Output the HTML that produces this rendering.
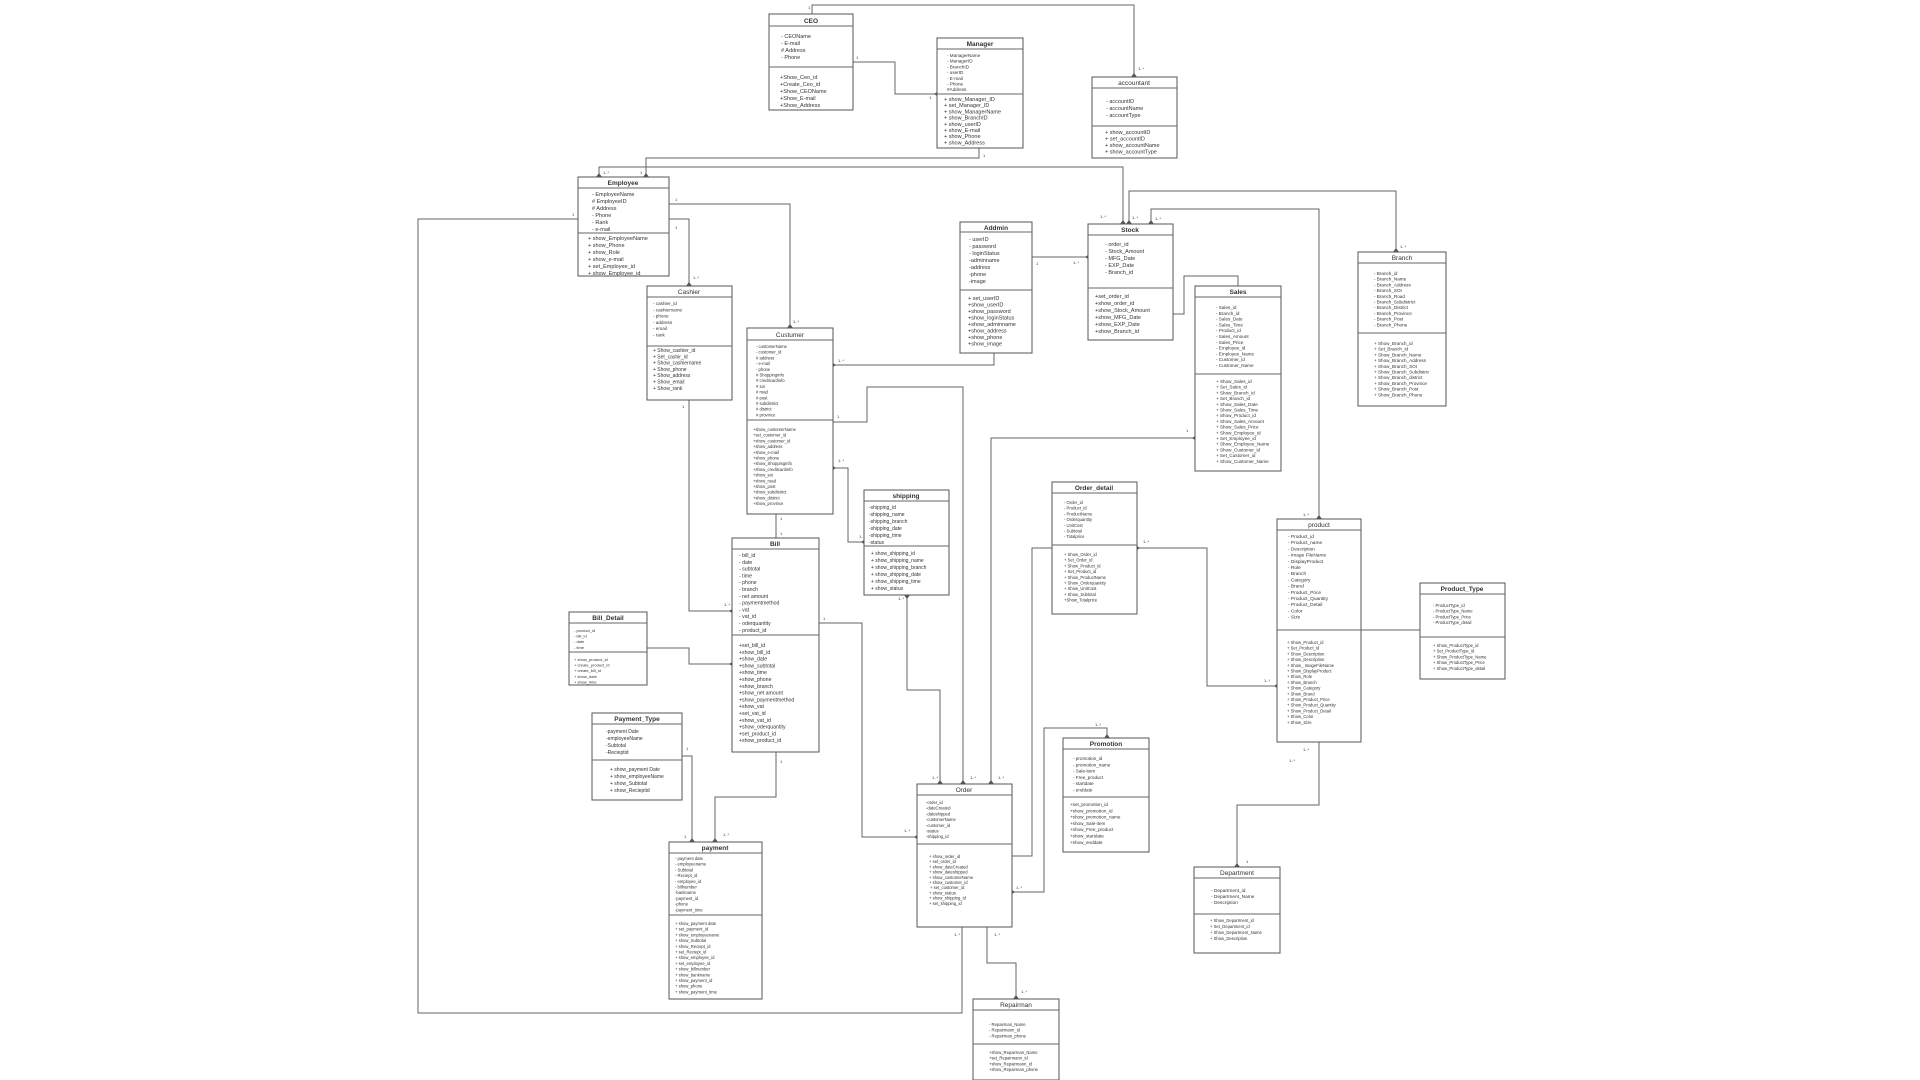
<!DOCTYPE html>
<html><head><meta charset="utf-8"><style>
html,body{margin:0;padding:0;background:#fff;}
svg{display:block;}
text{font-family:"Liberation Sans",sans-serif;fill:#333;}
.h{font-weight:bold;font-size:6.5px;text-anchor:middle;}
.a{font-size:5.5px;}
.s{font-size:4.6px;}
.l{font-size:4px;fill:#555;}
rect{fill:#fff;stroke:#555;stroke-width:1;}
.ln{fill:none;stroke:#666;stroke-width:1;}
</style></head><body>
<svg width="1920" height="1080" viewBox="0 0 1920 1080" xmlns="http://www.w3.org/2000/svg">
<!-- connectors -->
<g class="ln">
<polyline points="812,14 812,5 1134,5 1134,77"/>
<polyline points="853,62 895,62 895,94 937,94"/>
<polyline points="979,148 979,158 646,158 646,177"/>
<polyline points="599,177 599,167 1123,167 1123,224"/>
<polyline points="1129,224 1129,191 1396,191 1396,252"/>
<polyline points="1151,224 1151,209 1319,209 1319,519"/>
<polyline points="1032,257 1088,257"/>
<polyline points="1238,286 1238,276 1184,276 1184,314 1173,314"/>
<polyline points="833,422 867,422 867,387 963,387 963,784"/>
<polyline points="1195,438 991,438 991,784"/>
<polyline points="994,353 994,365 833,365"/>
<polyline points="833,468 848,468 848,542 864,542"/>
<polyline points="907,595 907,690 940,690 940,784"/>
<polyline points="776,514 776,538"/>
<polyline points="689,400 689,611 732,611"/>
<polyline points="578,219 418,219 418,1013 962,1013 962,927"/>
<polyline points="669,204 790,204 790,328"/>
<polyline points="669,219 689,219 689,286"/>
<polyline points="647,648 689,648 689,664 732,664"/>
<polyline points="819,623 862,623 862,837 917,837"/>
<polyline points="776,752 776,797 715,797 715,842"/>
<polyline points="682,756 692,756 692,842"/>
<polyline points="1137,548 1207,548 1207,686 1277,686"/>
<polyline points="1012,856 1032,856 1032,548 1052,548"/>
<polyline points="1012,892 1044,892 1044,728 1107,728 1107,738"/>
<polyline points="1361,630 1420,630"/>
<polyline points="1319,742 1319,805 1237,805 1237,867"/>
<polyline points="987,927 987,963 1016,963 1016,999"/>
</g>
<!-- multiplicity labels -->
<g class="l">
<text x="808" y="9">1</text><text x="1138" y="70">1..*</text>
<text x="856" y="59">1</text><text x="929" y="99">1</text>
<text x="983" y="157">1</text><text x="640" y="174">1</text>
<text x="603" y="174">1..*</text><text x="1100" y="218">1..*</text>
<text x="1132" y="219">1..*</text><text x="1155" y="220">1..*</text>
<text x="1400" y="248">1..*</text><text x="1036" y="265">1</text>
<text x="1073" y="264">1..*</text><text x="1186" y="432">1</text>
<text x="837" y="418">1</text><text x="838" y="362">1..*</text>
<text x="838" y="462">1..*</text><text x="859" y="538">1..*</text>
<text x="898" y="600">1..*</text><text x="780" y="520">1</text>
<text x="780" y="535">1</text><text x="682" y="408">1</text>
<text x="724" y="606">1..*</text><text x="572" y="216">1</text>
<text x="675" y="201">1</text><text x="675" y="229">1</text>
<text x="693" y="279">1..*</text><text x="793" y="323">1..*</text>
<text x="823" y="620">1</text><text x="904" y="832">1..*</text>
<text x="780" y="763">1</text><text x="686" y="750">1</text>
<text x="723" y="836">1..*</text><text x="684" y="838">1</text>
<text x="1143" y="543">1..*</text><text x="1264" y="682">1..*</text>
<text x="1016" y="889">1..*</text><text x="1095" y="726">1..*</text>
<text x="1303" y="516">1..*</text><text x="1303" y="751">1..*</text>
<text x="1246" y="863">1</text><text x="1289" y="762">1..*</text>
<text x="994" y="936">1..*</text><text x="954" y="936">1..*</text>
<text x="1021" y="993">1..*</text><text x="932" y="779">1..*</text>
<text x="970" y="779">1..*</text><text x="998" y="779">1..*</text>
</g>

<!-- CEO -->
<rect x="769" y="14" width="84" height="96"/><line class="ln" x1="769" y1="26" x2="853" y2="26"/><line class="ln" x1="769" y1="67" x2="853" y2="67"/>
<text class="h" x="811" y="23">CEO</text>
<g class="a"><text x="781" y="38">- CEOName</text><text x="781" y="45">- E-mail</text><text x="781" y="52"># Address</text><text x="781" y="59">- Phone</text>
<text x="780" y="79">+Show_Ceo_id</text><text x="780" y="86">+Create_Ceo_id</text><text x="780" y="93">+Show_CEOName</text><text x="780" y="100">+Show_E-mail</text><text x="780" y="107">+Show_Address</text></g>

<!-- Manager -->
<rect x="937" y="38" width="86" height="110"/><line class="ln" x1="937" y1="49" x2="1023" y2="49"/><line class="ln" x1="937" y1="94" x2="1023" y2="94"/>
<text class="h" x="980" y="46">Manager</text>
<g class="s"><text x="947" y="57">- ManagerName</text><text x="947" y="62.7">- ManagerID</text><text x="947" y="68.4">- BranchID</text><text x="947" y="74.1">- userID</text><text x="947" y="79.8">- E-mail</text><text x="947" y="85.5">- Phone</text><text x="947" y="91.2">#Address</text></g>
<g class="a"><text x="944" y="101">+ show_Manager_ID</text><text x="944" y="107.2">+ set_Manager_ID</text><text x="944" y="113.4">+ show_ManagerName</text><text x="944" y="119.6">+ show_BranchID</text><text x="944" y="125.8">+ show_userID</text><text x="944" y="132">+ show_E-mail</text><text x="944" y="138.2">+ show_Phone</text><text x="944" y="144.4">+ show_Address</text></g>

<!-- accountant -->
<rect x="1092" y="77" width="85" height="81"/><line class="ln" x1="1092" y1="88" x2="1177" y2="88"/><line class="ln" x1="1092" y1="126" x2="1177" y2="126"/>
<text class="h" x="1134" y="85" style="font-weight:normal">accountant</text>
<g class="a"><text x="1106" y="103">- accountID</text><text x="1106" y="110">- accountName</text><text x="1106" y="117">- accountType</text>
<text x="1105" y="134">+ show_accountID</text><text x="1105" y="140.5">+ set_accountID</text><text x="1105" y="147">+ show_accountName</text><text x="1105" y="153.5">+ show_accountType</text></g>

<!-- Employee -->
<rect x="578" y="177" width="91" height="99"/><line class="ln" x1="578" y1="188" x2="669" y2="188"/><line class="ln" x1="578" y1="233" x2="669" y2="233"/>
<text class="h" x="623" y="185">Employee</text>
<g class="a"><text x="592" y="196">- EmployeeName</text><text x="592" y="203"># EmployeeID</text><text x="592" y="210"># Address</text><text x="592" y="217">- Phone</text><text x="592" y="224">- Rank</text><text x="592" y="231">- e-mail</text>
<text x="588" y="240">+ show_EmployeeName</text><text x="588" y="247">+ show_Phone</text><text x="588" y="254">+ show_Role</text><text x="588" y="261">+ show_e-mail</text><text x="588" y="268">+ set_Employee_id</text><text x="588" y="275">+ show_Employee_id</text></g>

<!-- Addmin -->
<rect x="960" y="222" width="72" height="131"/><line class="ln" x1="960" y1="232" x2="1032" y2="232"/><line class="ln" x1="960" y1="290" x2="1032" y2="290"/>
<text class="h" x="996" y="230">Addmin</text>
<g class="a"><text x="969" y="241">- userID</text><text x="969" y="248">- password</text><text x="969" y="255">- loginStatus</text><text x="969" y="262">-adminname</text><text x="969" y="269">-address</text><text x="969" y="276">-phone</text><text x="969" y="283">-image</text>
<text x="968" y="300">+ set_userID</text><text x="968" y="306.5">+show_userID</text><text x="968" y="313">+show_password</text><text x="968" y="319.5">+show_loginStatus</text><text x="968" y="326">+show_adminname</text><text x="968" y="332.5">+show_address</text><text x="968" y="339">+show_phone</text><text x="968" y="345.5">+show_image</text></g>

<!-- Stock -->
<rect x="1088" y="224" width="85" height="116"/><line class="ln" x1="1088" y1="235" x2="1173" y2="235"/><line class="ln" x1="1088" y1="288" x2="1173" y2="288"/>
<text class="h" x="1130" y="232">Stock</text>
<g class="a"><text x="1105" y="246">- order_id</text><text x="1105" y="253">- Stock_Amount</text><text x="1105" y="260">- MFG_Date</text><text x="1105" y="267">- EXP_Date</text><text x="1105" y="274">- Branch_id</text>
<text x="1095" y="298">+set_order_id</text><text x="1095" y="305">+show_order_id</text><text x="1095" y="312">+show_Stock_Amount</text><text x="1095" y="319">+show_MFG_Date</text><text x="1095" y="326">+show_EXP_Date</text><text x="1095" y="333">+show_Branch_id</text></g>

<!-- Sales -->
<rect x="1195" y="286" width="86" height="185"/><line class="ln" x1="1195" y1="297" x2="1281" y2="297"/><line class="ln" x1="1195" y1="374" x2="1281" y2="374"/>
<text class="h" x="1238" y="294">Sales</text>
<g class="s"><text x="1216" y="309">- Sales_id</text><text x="1216" y="314.8">- Branch_id</text><text x="1216" y="320.6">- Sales_Date</text><text x="1216" y="326.4">- Sales_Time</text><text x="1216" y="332.2">- Product_id</text><text x="1216" y="338">- Sales_Amount</text><text x="1216" y="343.8">- Sales_Price</text><text x="1216" y="349.6">- Employee_id</text><text x="1216" y="355.4">- Employee_Name</text><text x="1216" y="361.2">- Customer_id</text><text x="1216" y="367">- Customer_Name</text>
<text x="1216" y="383">+ Show_Sales_id</text><text x="1216" y="388.7">+ Set_Sales_id</text><text x="1216" y="394.4">+ Show_Branch_id</text><text x="1216" y="400.1">+ Set_Branch_id</text><text x="1216" y="405.8">+ Show_Sales_Date</text><text x="1216" y="411.5">+ Show_Sales_Time</text><text x="1216" y="417.2">+ Show_Product_id</text><text x="1216" y="422.9">+ Show_Sales_Amount</text><text x="1216" y="428.6">+ Show_Sales_Price</text><text x="1216" y="434.3">+ Show_Employee_id</text><text x="1216" y="440">+ Set_Employee_id</text><text x="1216" y="445.7">+ Show_Employee_Name</text><text x="1216" y="451.4">+ Show_Customer_id</text><text x="1216" y="457.1">+ Set_Customer_id</text><text x="1216" y="462.8">+ Show_Customer_Name</text></g>

<!-- Branch -->
<rect x="1358" y="252" width="88" height="154"/><line class="ln" x1="1358" y1="263" x2="1446" y2="263"/><line class="ln" x1="1358" y1="333" x2="1446" y2="333"/>
<text class="h" x="1402" y="260" style="font-weight:normal">Branch</text>
<g class="s"><text x="1374" y="275">- Branch_id</text><text x="1374" y="280.7">- Branch_Name</text><text x="1374" y="286.4">- Branch_Address</text><text x="1374" y="292.1">- Branch_SOI</text><text x="1374" y="297.8">- Branch_Road</text><text x="1374" y="303.5">- Branch_Subdistrict</text><text x="1374" y="309.2">- Branch_District</text><text x="1374" y="314.9">- Branch_Province</text><text x="1374" y="320.6">- Branch_Post</text><text x="1374" y="326.3">- Branch_Phone</text>
<text x="1374" y="345">+ Show_Branch_id</text><text x="1374" y="350.7">+ Set_Branch_id</text><text x="1374" y="356.4">+ Show_Branch_Name</text><text x="1374" y="362.1">+ Show_Branch_Address</text><text x="1374" y="367.8">+ Show_Branch_SOI</text><text x="1374" y="373.5">+ Show_Branch_Subdistric</text><text x="1374" y="379.2">+ Show_Branch_district</text><text x="1374" y="384.9">+ Show_Branch_Province</text><text x="1374" y="390.6">+ Show_Branch_Post</text><text x="1374" y="396.3">+ Show_Branch_Phone</text></g>

<!-- Cashier -->
<rect x="647" y="286" width="85" height="114"/><line class="ln" x1="647" y1="297" x2="732" y2="297"/><line class="ln" x1="647" y1="346" x2="732" y2="346"/>
<text class="h" x="689" y="294" style="font-weight:normal">Cashier</text>
<g class="s"><text x="653" y="305">- cashier_id</text><text x="653" y="311.3">- cashiername</text><text x="653" y="317.6">- phone</text><text x="653" y="323.9">- address</text><text x="653" y="330.2">- email</text><text x="653" y="336.5">- rank</text></g>
<g class="a" style="font-size:5px"><text x="653" y="352">+ Show_cashier_id</text><text x="653" y="358.3">+ Set_cashir_id</text><text x="653" y="364.6">+ Show_cashiername</text><text x="653" y="370.9">+ Show_phone</text><text x="653" y="377.2">+ Show_address</text><text x="653" y="383.5">+ Show_email</text><text x="653" y="389.8">+ Show_rank</text></g>

<!-- Custumer -->
<rect x="747" y="328" width="86" height="186"/><line class="ln" x1="747" y1="340" x2="833" y2="340"/><line class="ln" x1="747" y1="420" x2="833" y2="420"/>
<text class="h" x="790" y="337" style="font-weight:normal">Custumer</text>
<g class="s" style="font-size:4.2px"><text x="756" y="348">- customerName</text><text x="756" y="353.7">- customer_id</text><text x="756" y="359.4"># address</text><text x="756" y="365.1">- e-mail</text><text x="756" y="370.8">- phone</text><text x="756" y="376.5"># Shoppinginfo</text><text x="756" y="382.2"># creditcardinfo</text><text x="756" y="387.9"># soi</text><text x="756" y="393.6"># road</text><text x="756" y="399.3"># post</text><text x="756" y="405"># subdistrict</text><text x="756" y="410.7"># district</text><text x="756" y="416.4"># province</text>
<text x="753" y="431">+show_customerName</text><text x="753" y="436.7">+set_customer_id</text><text x="753" y="442.4">+show_customer_id</text><text x="753" y="448.1">+show_address</text><text x="753" y="453.8">+show_e-mail</text><text x="753" y="459.5">+show_phone</text><text x="753" y="465.2">+show_Shoppinginfo</text><text x="753" y="470.9">+show_creditcardinfo</text><text x="753" y="476.6">+show_soi</text><text x="753" y="482.3">+show_road</text><text x="753" y="488">+show_post</text><text x="753" y="493.7">+show_subdistrict</text><text x="753" y="499.4">+show_district</text><text x="753" y="505.1">+show_province</text></g>

<!-- shipping -->
<rect x="864" y="490" width="85" height="105"/><line class="ln" x1="864" y1="501" x2="949" y2="501"/><line class="ln" x1="864" y1="546" x2="949" y2="546"/>
<text class="h" x="906" y="498">shipping</text>
<g class="a" style="font-size:5px"><text x="869" y="509">-shipping_id</text><text x="869" y="516">-shipping_name</text><text x="869" y="523">-shipping_branch</text><text x="869" y="530">-shipping_date</text><text x="869" y="537">-shipping_time</text><text x="869" y="544">-status</text>
<text x="871" y="555">+ show_shipping_id</text><text x="871" y="562">+ show_shipping_name</text><text x="871" y="569">+ show_shipping_branch</text><text x="871" y="576">+ show_shipping_date</text><text x="871" y="583">+ show_shipping_time</text><text x="871" y="590">+ show_status</text></g>

<!-- Bill -->
<rect x="732" y="538" width="87" height="214"/><line class="ln" x1="732" y1="549" x2="819" y2="549"/><line class="ln" x1="732" y1="635" x2="819" y2="635"/>
<text class="h" x="775" y="546">Bill</text>
<g class="a" style="font-size:5.2px"><text x="739" y="557">- bill_id</text><text x="739" y="563.8">- date</text><text x="739" y="570.6">- subtotal</text><text x="739" y="577.4">- time</text><text x="739" y="584.2">- phone</text><text x="739" y="591">- branch</text><text x="739" y="597.8">- net amount</text><text x="739" y="604.6">- paymentmethod</text><text x="739" y="611.4">- vat</text><text x="739" y="618.2">- vat_id</text><text x="739" y="625">- oderquantity</text><text x="739" y="631.8">- product_id</text>
<text x="739" y="647">+set_bill_id</text><text x="739" y="653.8">+show_bill_id</text><text x="739" y="660.6">+show_date</text><text x="739" y="667.4">+show_subtotal</text><text x="739" y="674.2">+show_time</text><text x="739" y="681">+show_phone</text><text x="739" y="687.8">+show_branch</text><text x="739" y="694.6">+show_net amount</text><text x="739" y="701.4">+show_paymentmethod</text><text x="739" y="708.2">+show_vat</text><text x="739" y="715">+set_vat_id</text><text x="739" y="721.8">+show_vat_id</text><text x="739" y="728.6">+show_oderquantity</text><text x="739" y="735.4">+set_product_id</text><text x="739" y="742.2">+show_product_id</text></g>

<!-- Bill_Detail -->
<rect x="569" y="612" width="78" height="73"/><line class="ln" x1="569" y1="623" x2="647" y2="623"/><line class="ln" x1="569" y1="652" x2="647" y2="652"/>
<text class="h" x="608" y="620">Bill_Detail</text>
<g class="s" style="font-size:4px"><text x="574" y="632">- product_id</text><text x="574" y="637.6">- bill_id</text><text x="574" y="643.2">- date</text><text x="574" y="648.8">- time</text>
<text x="574" y="661">+ show_product_id</text><text x="574" y="666.6">+ create_product_id</text><text x="574" y="672.2">+ create_bill_id</text><text x="574" y="677.8">+ show_date</text><text x="574" y="683.4">+ show_time</text></g>

<!-- Payment_Type -->
<rect x="592" y="713" width="90" height="87"/><line class="ln" x1="592" y1="724" x2="682" y2="724"/><line class="ln" x1="592" y1="760" x2="682" y2="760"/>
<text class="h" x="637" y="721">Payment_Type</text>
<g class="a" style="font-size:5px"><text x="606" y="733">-payment Date</text><text x="606" y="740">-employeeName</text><text x="606" y="747">-Subtotal</text><text x="606" y="754">-Recieptid</text>
<text x="610" y="771">+ show_payment Date</text><text x="610" y="778">+ show_employeeName</text><text x="610" y="785">+ show_Subtotal</text><text x="610" y="792">+ show_Recieptid</text></g>

<!-- payment -->
<rect x="669" y="842" width="93" height="157"/><line class="ln" x1="669" y1="853" x2="762" y2="853"/><line class="ln" x1="669" y1="915" x2="762" y2="915"/>
<text class="h" x="715" y="850">payment</text>
<g class="s" style="font-size:4.2px"><text x="675" y="860">- payment date</text><text x="675" y="865.7">- employeename</text><text x="675" y="871.4">- Subtotal</text><text x="675" y="877.1">- Reciept_id</text><text x="675" y="882.8">- employee_id</text><text x="675" y="888.5">- billnumber</text><text x="675" y="894.2">-bankname</text><text x="675" y="899.9">-payment_id</text><text x="675" y="905.6">-phone</text><text x="675" y="911.3">-payment_time</text>
<text x="675" y="925">+ show_payment date</text><text x="675" y="930.7">+ set_payment_id</text><text x="675" y="936.4">+ show_employeename</text><text x="675" y="942.1">+ show_Subtotal</text><text x="675" y="947.8">+ show_Reciept_id</text><text x="675" y="953.5">+ set_Reciept_id</text><text x="675" y="959.2">+ show_employee_id</text><text x="675" y="964.9">+ set_employee_id</text><text x="675" y="970.6">+ show_billnumber</text><text x="675" y="976.3">+ show_bankname</text><text x="675" y="982">+ show_payment_id</text><text x="675" y="987.7">+ show_phone</text><text x="675" y="993.4">+ show_payment_time</text></g>

<!-- Order -->
<rect x="917" y="784" width="95" height="143"/><line class="ln" x1="917" y1="795" x2="1012" y2="795"/><line class="ln" x1="917" y1="844" x2="1012" y2="844"/>
<text class="h" x="964" y="792" style="font-weight:normal">Order</text>
<g class="s" style="font-size:4.2px"><text x="926" y="804">-order_id</text><text x="926" y="809.7">-dateCreated</text><text x="926" y="815.4">-dateshipped</text><text x="926" y="821.1">-customerName</text><text x="926" y="826.8">-customer_id</text><text x="926" y="832.5">-status</text><text x="926" y="838.2">-shipping_id</text>
<text x="929" y="858">+ show_order_id</text><text x="929" y="863.2">+ set_order_id</text><text x="929" y="868.4">+ show_dateCreated</text><text x="929" y="873.6">+ show_dateshipped</text><text x="929" y="878.8">+ show_customerName</text><text x="929" y="884">+ show_customer_id</text><text x="930" y="889.2">+ set_customer_id</text><text x="929" y="894.4">+ show_status</text><text x="929" y="899.6">+ show_shipping_id</text><text x="929" y="904.8">+ set_shipping_id</text></g>

<!-- Repairman -->
<rect x="973" y="999" width="86" height="81"/><line class="ln" x1="973" y1="1010" x2="1059" y2="1010"/><line class="ln" x1="973" y1="1044" x2="1059" y2="1044"/>
<text class="h" x="1016" y="1007" style="font-weight:normal">Repairman</text>
<g class="s" style="font-size:4.2px"><text x="989" y="1026">- Repairman_Name</text><text x="989" y="1031.7">- Repairmann_id</text><text x="989" y="1037.4">- Repairman_phone</text>
<text x="989" y="1054">+show_Repairman_Name</text><text x="989" y="1059.7">+set_Repairmann_id</text><text x="989" y="1065.4">+show_Repairmann_id</text><text x="989" y="1071.1">+show_Repairman_phone</text></g>

<!-- Order_detail -->
<rect x="1052" y="482" width="85" height="132"/><line class="ln" x1="1052" y1="493" x2="1137" y2="493"/><line class="ln" x1="1052" y1="545" x2="1137" y2="545"/>
<text class="h" x="1094" y="490">Order_detail</text>
<g class="s" style="font-size:4.2px"><text x="1064" y="504">- Order_id</text><text x="1064" y="509.7">- Product_id</text><text x="1064" y="515.4">- ProductName</text><text x="1064" y="521.1">- Orderquantity</text><text x="1064" y="526.8">- UnitCost</text><text x="1064" y="532.5">- Subtotal</text><text x="1064" y="538.2">- Totalprice</text>
<text x="1064" y="556">+ Show_Order_id</text><text x="1064" y="561.7">+ Set_Order_id</text><text x="1064" y="567.4">+ Show_Product_id</text><text x="1064" y="573.1">+ Set_Product_id</text><text x="1064" y="578.8">+ Show_ProductName</text><text x="1064" y="584.5">+ Show_Orderquantity</text><text x="1064" y="590.2">+ Show_UnitCost</text><text x="1064" y="595.9">+ Show_Subtotal</text><text x="1064" y="601.6">+Show_Totalprice</text></g>

<!-- product -->
<rect x="1277" y="519" width="84" height="223"/><line class="ln" x1="1277" y1="530" x2="1361" y2="530"/><line class="ln" x1="1277" y1="630" x2="1361" y2="630"/>
<text class="h" x="1319" y="527" style="font-weight:normal">product</text>
<g class="s" style="font-size:4.8px"><text x="1288" y="538">- Product_id</text><text x="1288" y="544.2">- Product_name</text><text x="1288" y="550.4">- Description</text><text x="1288" y="556.6">- Image FileName</text><text x="1288" y="562.8">- DisplayProduct</text><text x="1288" y="569">- Role</text><text x="1288" y="575.2">- Branch</text><text x="1288" y="581.4">- Category</text><text x="1288" y="587.6">- Brand</text><text x="1288" y="593.8">- Product_Price</text><text x="1288" y="600">- Product_Quantity</text><text x="1288" y="606.2">- Product_Detail</text><text x="1288" y="612.4">- Color</text><text x="1288" y="618.6">- Size</text></g>
<g class="s" style="font-size:4.2px"><text x="1287" y="644">+ Show_Product_id</text><text x="1287" y="649.7">+ Set_Product_id</text><text x="1287" y="655.4">+ Show_Description</text><text x="1287" y="661.1">+ Show_Description</text><text x="1287" y="666.8">+ Show_ ImageFileName</text><text x="1287" y="672.5">+ Show_DisplayProduct</text><text x="1287" y="678.2">+ Show_Role</text><text x="1287" y="683.9">+ Show_Branch</text><text x="1287" y="689.6">+ Show_Category</text><text x="1287" y="695.3">+ Show_Brand</text><text x="1287" y="701">+ Show_Product_Price</text><text x="1287" y="706.7">+ Show_Product_Quantity</text><text x="1287" y="712.4">+ Show_Product_Detail</text><text x="1287" y="718.1">+ Show_Color</text><text x="1287" y="723.8">+ Show_Size</text></g>

<!-- Product_Type -->
<rect x="1420" y="583" width="85" height="96"/><line class="ln" x1="1420" y1="594" x2="1505" y2="594"/><line class="ln" x1="1420" y1="637" x2="1505" y2="637"/>
<text class="h" x="1462" y="591">Product_Type</text>
<g class="s" style="font-size:4.2px"><text x="1433" y="607">- ProductType_id</text><text x="1433" y="612.7">- ProductType_Name</text><text x="1433" y="618.4">- ProductType_Price</text><text x="1433" y="624.1">- ProductType_detail</text>
<text x="1433" y="647">+ Show_ProductType_id</text><text x="1433" y="652.7">+ Set_ProductType_id</text><text x="1433" y="658.4">+ Show_ProductType_Name</text><text x="1433" y="664.1">+ Show_ProductType_Price</text><text x="1433" y="669.8">+ Show_ProductType_detail</text></g>

<!-- Promotion -->
<rect x="1063" y="738" width="86" height="114"/><line class="ln" x1="1063" y1="749" x2="1149" y2="749"/><line class="ln" x1="1063" y1="797" x2="1149" y2="797"/>
<text class="h" x="1106" y="746">Promotion</text>
<g class="s" style="font-size:4.6px"><text x="1073" y="760">- promotion_id</text><text x="1073" y="766.3">- promotion_name</text><text x="1073" y="772.6">- Sale-item</text><text x="1073" y="778.9">- Free_product</text><text x="1073" y="785.2">- startdate</text><text x="1073" y="791.5">- enddate</text>
<text x="1070" y="806">+set_promotion_id</text><text x="1070" y="812.3">+show_promotion_id</text><text x="1070" y="818.6">+show_promotion_name</text><text x="1070" y="824.9">+show_Sale-item</text><text x="1070" y="831.2">+show_Free_product</text><text x="1070" y="837.5">+show_startdate</text><text x="1070" y="843.8">+show_enddate</text></g>

<!-- Department -->
<rect x="1194" y="867" width="86" height="86"/><line class="ln" x1="1194" y1="878" x2="1280" y2="878"/><line class="ln" x1="1194" y1="914" x2="1280" y2="914"/>
<text class="h" x="1237" y="875" style="font-weight:normal">Department</text>
<g class="s" style="font-size:4.8px"><text x="1211" y="892">- Department_id</text><text x="1211" y="898">- Department_Name</text><text x="1211" y="904">- Description</text></g>
<g class="s" style="font-size:4.2px"><text x="1210" y="922">+ Show_Department_id</text><text x="1210" y="928">+ Set_Department_id</text><text x="1210" y="934">+ Show_Department_Name</text><text x="1210" y="940">+ Show_Description</text></g>

<!-- small arrow ticks at ends -->
<g fill="#555">
<path d="M1131,77 l3,-4 l3,4z"/><path d="M934,94 l3,-2 v4z"/><path d="M643,177 l3,-4 l3,4z"/><path d="M596,177 l3,-4 l3,4z"/>
<path d="M1120,224 l3,-4 l3,4z"/><path d="M1126,224 l3,-4 l3,4z"/><path d="M1148,224 l3,-4 l3,4z"/><path d="M1393,252 l3,-4 l3,4z"/>
<path d="M1316,519 l3,-4 l3,4z"/><path d="M1085,257 l3,-2 v4z"/><path d="M960,784 l3,-4 l3,4z"/><path d="M988,784 l3,-4 l3,4z"/>
<path d="M937,784 l3,-4 l3,4z"/><path d="M836,365 l-3,-2 v4z"/><path d="M861,542 l3,-2 v4z"/><path d="M836,468 l-3,-2 v4z"/>
<path d="M729,611 l3,-2 v4z"/><path d="M787,328 l3,-4 l3,4z"/><path d="M686,286 l3,-4 l3,4z"/><path d="M729,664 l3,-2 v4z"/>
<path d="M914,837 l3,-2 v4z"/><path d="M712,842 l3,-4 l3,4z"/><path d="M689,842 l3,-4 l3,4z"/><path d="M1274,686 l3,-2 v4z"/>
<path d="M1104,738 l3,-4 l3,4z"/><path d="M1015,892 l-3,-2 v4z"/><path d="M1013,999 l3,-4 l3,4z"/><path d="M1234,867 l3,-4 l3,4z"/>
<path d="M1140,548 l-3,-2 v4z"/><path d="M1192,438 l3,-2 v4z"/><path d="M904,595 l3,4 l3,-4z"/>
</g>
</svg>
</body></html>
